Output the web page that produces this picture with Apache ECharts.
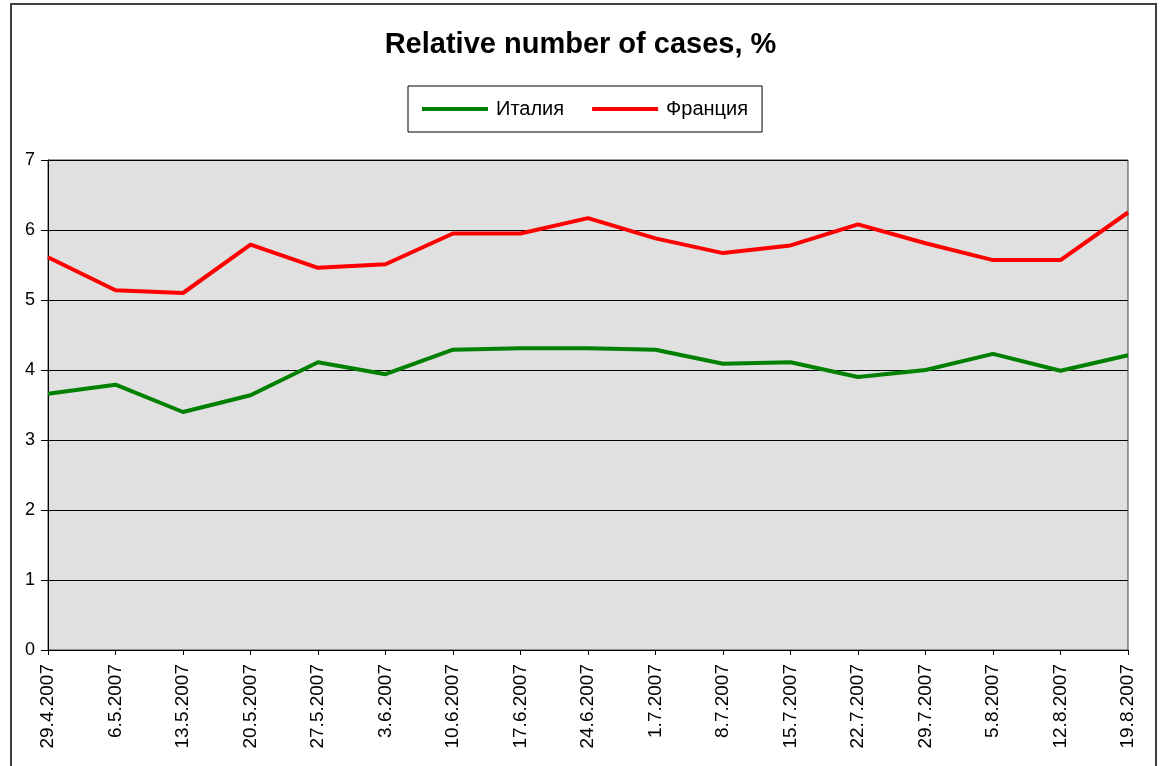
<!DOCTYPE html>
<html>
<head>
<meta charset="utf-8">
<script src="https://cdn.jsdelivr.net/npm/echarts@6/dist/echarts.min.js"></script>
<style>
  html, body { margin: 0; padding: 0; background: #fff; }
  #chart { width: 1161px; height: 766px; }
</style>
</head>
<body>
<div id="chart"></div>
<script>
// Weekly dates
const dates = ['29.4.2007','6.5.2007','13.5.2007','20.5.2007','27.5.2007','3.6.2007',
  '10.6.2007','17.6.2007','24.6.2007','1.7.2007','8.7.2007','15.7.2007','22.7.2007',
  '29.7.2007','5.8.2007','12.8.2007','19.8.2007'];

// Relative number of cases, %
const italy = [3.66, 3.79, 3.40, 3.64, 4.11, 3.94, 4.29, 4.31, 4.31, 4.29, 4.09, 4.11, 3.90, 4.00, 4.23, 3.99, 4.21];
const france = [5.61, 5.14, 5.10, 5.79, 5.46, 5.51, 5.95, 5.95, 6.17, 5.88, 5.67, 5.78, 6.08, 5.81, 5.57, 5.57, 6.25];

const yTicks = [0, 1, 2, 3, 4, 5, 6, 7];

const FONT = 'Arial, "Liberation Sans", sans-serif';

const chart = echarts.init(document.getElementById('chart'), null, { renderer: 'canvas' });

chart.setOption({
  backgroundColor: '#ffffff',
  animation: false,
  graphic: [{
    type: 'rect',
    shape: { x: 11, y: 4, width: 1145, height: 800 },
    style: { fill: 'none', stroke: '#404040', lineWidth: 2 },
    silent: true,
    z: -1
  }],
  title: {
    text: 'Relative number of cases, %',
    left: 'center',
    top: 25,
    textStyle: { fontFamily: FONT, fontSize: 29, fontWeight: 'bold', color: '#000' }
  },
  legend: {
    left: 408,
    top: 86,
    padding: [13, 14, 13, 14],
    borderColor: '#000',
    borderWidth: 1,
    itemWidth: 66,
    itemHeight: 4,
    itemGap: 28,
    icon: 'rect',
    textStyle: { fontFamily: FONT, fontSize: 20, color: '#000', padding: [0, 0, 0, 3] },
    data: ['Италия', 'Франция']
  },
  grid: {
    left: 48, top: 160, right: 33, bottom: 116,
    show: true,
    backgroundColor: '#e0e0e0',
    borderColor: '#404040',
    borderWidth: 1
  },
  xAxis: {
    type: 'category',
    data: dates,
    boundaryGap: false,
    axisLine: { lineStyle: { color: '#000', width: 1 } },
    axisTick: { show: true, length: 5, lineStyle: { color: '#000' } },
    axisLabel: {
      rotate: 90,
      interval: 0,
      margin: 14,
      fontFamily: FONT,
      fontSize: 19,
      color: '#000'
    },
    splitLine: { show: false }
  },
  yAxis: {
    type: 'value',
    min: yTicks[0],
    max: yTicks[yTicks.length - 1],
    interval: 1,
    axisLine: { show: true, lineStyle: { color: '#000', width: 1 } },
    axisTick: { show: true, length: 7, lineStyle: { color: '#000' } },
    axisLabel: { margin: 13, fontFamily: FONT, fontSize: 18, color: '#000' },
    splitLine: { show: true, lineStyle: { color: '#000', width: 1 } }
  },
  series: [
    {
      name: 'Италия',
      type: 'line',
      data: italy,
      showSymbol: false,
      symbol: 'none',
      color: '#008000',
      lineStyle: { color: '#008000', width: 4 }
    },
    {
      name: 'Франция',
      type: 'line',
      data: france,
      showSymbol: false,
      symbol: 'none',
      color: '#ff0000',
      lineStyle: { color: '#ff0000', width: 4 }
    }
  ]
});
</script>
</body>
</html>
